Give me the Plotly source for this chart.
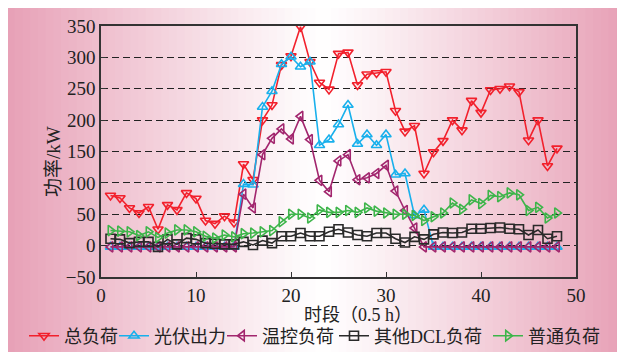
import plotly.graph_objects as go

x_slots = list(range(1, 49))

total_load = [80, 76, 60, 52, 62, 26, 65, 57, 84, 75, 40, 35, 47, 37, 130, 105,
              200, 224, 288, 302, 349, 293, 260, 249, 306, 308, 256, 273, 275, 277, 215, 182,
              191, 115, 149, 167, 200, 184, 231, 212, 248, 250, 254, 245, 168, 200, 127, 155]
pv_output = [-2] * 14 + [98, 97, 221, 246, 289, 301, 285, 293, 160, 169, 193, 224, 162, 177,
                          160, 177, 113, 115, 48, 57] + [-2] * 14
thermal_load = [-2] * 14 + [82, 60, 145, 171, 186, 170, 206, 169, 104, 86, 135, 145, 105, 108,
                             115, 128, 87, 56, 28] + [-2] * 15
other_dcl = [11, 10, 4, 6, 6, -2, 10, 2, 12, 10, 4, 3, 2, 2, 6, 1,
             8, 4, 15, 15, 20, 15, 15, 22, 26, 21, 17, 15, 20, 20, 11, 5,
             14, 10, 18, 21, 20, 21, 27, 27, 28, 29, 27, 26, 17, 25, 11, 15]
normal_load = [24, 23, 22, 16, 22, 13, 20, 25, 25, 22, 15, 12, 17, 14, 19, 20,
               22, 24, 38, 50, 50, 44, 57, 53, 53, 56, 53, 60, 55, 52, 50, 50,
               48, 40, 46, 52, 68, 58, 73, 67, 80, 78, 84, 81, 56, 61, 44, 52]

names = ["总负荷", "光伏出力", "温控负荷", "其他DCL负荷", "普通负荷"]
colors = ["#F2202C", "#18B0EC", "#A2266E", "#2A2A2A", "#3DB54A"]
symbols = ["triangle-down-open", "triangle-up-open", "triangle-left-open", "square-open", "triangle-right-open"]
series = [total_load, pv_output, thermal_load, other_dcl, normal_load]

# the page body adds an 8px offset; figure coordinates = screen coordinates - 8
OFF = 8
W, H = 625, 352
plot_left, plot_right, plot_top, plot_bottom = 101 - OFF, 576 - OFF, 26 - OFF, 277 - OFF
L_MARGIN, R_MARGIN, T_MARGIN, B_MARGIN = plot_left, W - plot_right, plot_top, H - plot_bottom
pw = plot_right - plot_left
ph = plot_bottom - plot_top


def px_x(sx):
    return (sx - OFF - plot_left) / pw


def px_y(sy):
    return (plot_bottom - (sy - OFF)) / ph


legend_ids = ["legend", "legend2", "legend3", "legend4", "legend5"]
legend_left_screen = [24, 114, 222, 334, 488]

fig = go.Figure()
for nm, col, sym, ys, lid in zip(names, colors, symbols, series, legend_ids):
    fig.add_trace(go.Scatter(
        x=x_slots, y=ys, name=nm, mode="lines+markers", legend=lid,
        line=dict(color=col, width=1.6),
        marker=dict(symbol=sym, size=9, color=col, line=dict(width=1.6, color=col)),
    ))

# background gradient (pink at edges, white centre)
edge = (231, 160, 182)
centre_sx = 325
n = 80
shapes = []
for i in range(n):
    a = OFF + (W - OFF) * i / n
    b = OFF + (W - OFF) * (i + 1) / n + 0.6
    m = (a + b) / 2
    t = min(1.0, abs(m - centre_sx) / (centre_sx - OFF if m < centre_sx else W - centre_sx))
    t = t ** 1.1
    c = tuple(int(round(255 + (e - 255) * t)) for e in edge)
    shapes.append(dict(
        type="rect", xref="paper", yref="paper", layer="below",
        x0=px_x(a - 1), x1=px_x(b),
        y0=px_y(H + OFF + 4), y1=px_y(OFF - 2),
        fillcolor="rgb(%d,%d,%d)" % c, line=dict(width=0),
    ))

font_family = "Liberation Serif, Times New Roman, Noto Sans CJK SC, serif"

legend_common = dict(orientation="h", xanchor="left", yanchor="middle",
                     y=px_y(336),
                     bgcolor="rgba(0,0,0,0)", borderwidth=0,
                     font=dict(size=18, color="#222"), itemwidth=30)

layout_legends = {}
for lid, lx in zip(legend_ids, legend_left_screen):
    d = dict(legend_common)
    d["x"] = px_x(lx)
    layout_legends[lid] = d

fig.update_layout(
    width=W, height=H,
    margin=dict(l=L_MARGIN, r=R_MARGIN, t=T_MARGIN, b=B_MARGIN, pad=0, autoexpand=False),
    paper_bgcolor="white", plot_bgcolor="rgba(0,0,0,0)",
    font=dict(family=font_family, size=20, color="#222"),
    shapes=shapes,
    showlegend=True,
    xaxis=dict(range=[0, 50], dtick=10, ticks="inside", ticklen=5, tickcolor="#333",
               showline=True, linecolor="#333", linewidth=1.5, mirror=True,
               showgrid=False, zeroline=False, automargin=False,
               tickfont=dict(size=19, color="#222")),
    yaxis=dict(range=[-50, 350], dtick=50, ticks="inside", ticklen=5, tickcolor="#333",
               showline=True, linecolor="#333", linewidth=1.5, mirror=True,
               showgrid=True, gridcolor="#222", gridwidth=1.3, griddash="7px,4px",
               zeroline=False, automargin=False,
               tickfont=dict(size=19, color="#222")),
    annotations=[
        dict(text="时段（0.5 h）", xref="paper", yref="paper",
             x=px_x(358), y=px_y(315),
             xanchor="center", yanchor="middle",
             showarrow=False, font=dict(size=18, color="#222")),
        dict(text="功率/kW", xref="paper", yref="paper",
             x=px_x(53), y=px_y(162), textangle=-90,
             xanchor="center", yanchor="middle",
             showarrow=False, font=dict(size=19, color="#222")),
    ],
    **layout_legends,
)

fig.write_html("out.html")
